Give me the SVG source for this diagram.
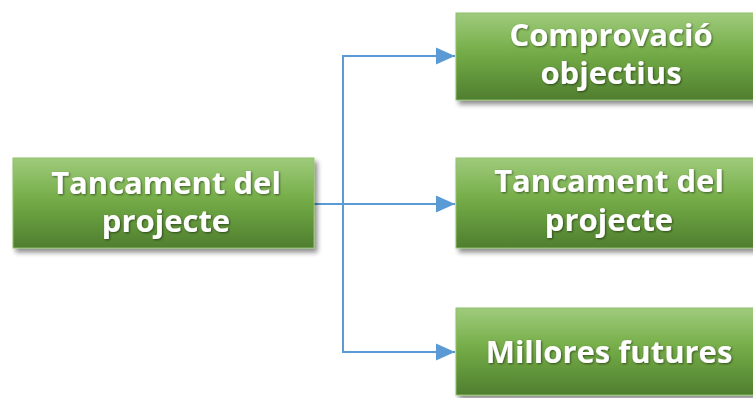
<svg xmlns="http://www.w3.org/2000/svg" width="753" height="398" viewBox="0 0 753 398">
<defs>
<linearGradient id="g" x1="0" y1="0" x2="0" y2="1">
<stop offset="0" stop-color="#9fcb7c"/>
<stop offset="0.45" stop-color="#75ad48"/>
<stop offset="1" stop-color="#4f7e2e"/>
</linearGradient>
<filter id="sh" x="-10%" y="-10%" width="130%" height="140%">
<feGaussianBlur in="SourceAlpha" stdDeviation="2.5"/>
<feOffset dx="3" dy="4" result="b"/>
<feComponentTransfer><feFuncA type="linear" slope="0.45"/></feComponentTransfer>
<feMerge><feMergeNode/><feMergeNode in="SourceGraphic"/></feMerge>
</filter>
<filter id="tg" x="-5%" y="-20%" width="110%" height="140%">
<feGaussianBlur in="SourceAlpha" stdDeviation="0.8"/>
<feOffset dx="0.5" dy="0.5"/>
<feComponentTransfer><feFuncA type="linear" slope="0.5"/></feComponentTransfer>
<feMerge><feMergeNode/><feMergeNode in="SourceGraphic"/></feMerge>
</filter>
<marker id="ar" markerWidth="19" markerHeight="18" refX="19" refY="9" orient="auto" markerUnits="userSpaceOnUse">
<path d="M0,0.5 L19,9 L0,17.5 Z" fill="#5b9bd5"/>
</marker>
</defs>
<style>
.box{fill:url(#g);stroke:#8fbf6c;stroke-width:1;filter:url(#sh)}
.t{font-family:"Open Sans","Liberation Sans",sans-serif;font-weight:bold;font-size:31px;fill:#ffffff;text-anchor:middle;filter:url(#tg)}
.c{fill:none;stroke:#5b9bd5;stroke-width:2}
</style>
<g id="connectors">
<path class="c" d="M343,352 L343,56 L455,56" marker-end="url(#ar)"/>
<path class="c" d="M343,200 L343,352 L455,352" marker-end="url(#ar)"/>
<path class="c" d="M314,204 L455,204" marker-end="url(#ar)"/>
</g>
<g id="n0">
<rect class="box" x="13" y="158" width="301" height="90"/>
<text class="t" x="166" y="194">Tancament del</text>
<text class="t" x="166" y="232">projecte</text>
</g>
<g id="n1">
<rect class="box" x="456" y="13" width="306" height="87"/>
<text class="t" x="611" y="46">Comprovació</text>
<text class="t" x="611" y="84">objectius</text>
</g>
<g id="n2">
<rect class="box" x="456" y="158" width="306" height="90"/>
<text class="t" x="609" y="192">Tancament del</text>
<text class="t" x="609" y="231">projecte</text>
</g>
<g id="n3">
<rect class="box" x="456" y="308" width="306" height="87"/>
<text class="t" x="609" y="363">Millores futures</text>
</g>
</svg>
